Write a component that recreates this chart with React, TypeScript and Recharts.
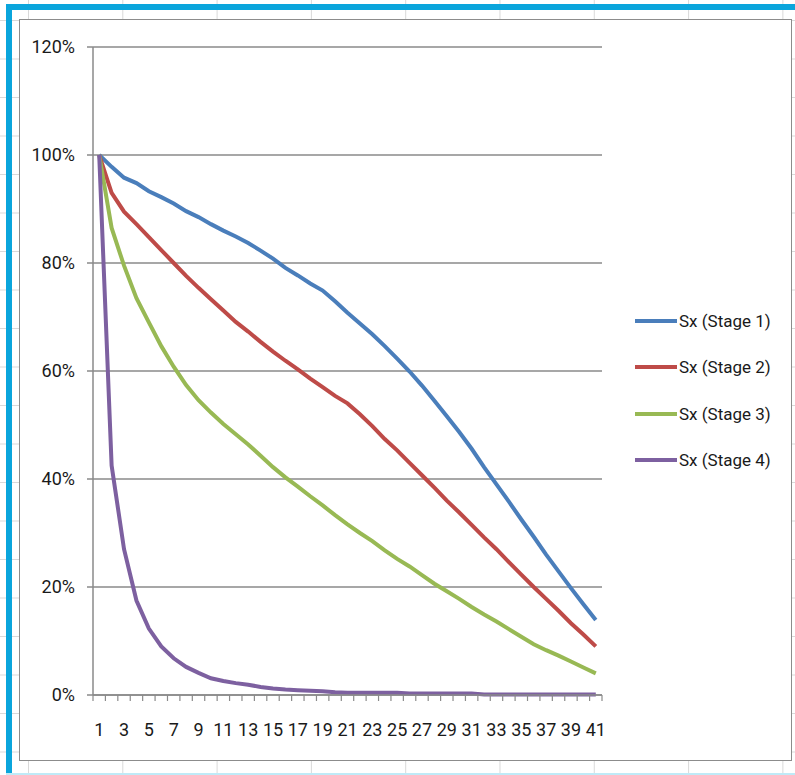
import React from 'react';
import { ComposedChart, Line, XAxis, YAxis, CartesianGrid } from 'recharts';

// year index 1..41
const periods = [
  1, 2, 3, 4, 5, 6, 7, 8, 9, 10, 11, 12, 13, 14, 15, 16, 17, 18, 19, 20, 21,
  22, 23, 24, 25, 26, 27, 28, 29, 30, 31, 32, 33, 34, 35, 36, 37, 38, 39, 40, 41,
];

// survival in %
const stage1 = [
  100, 97.8, 95.8, 94.8, 93.3, 92.2, 91, 89.6, 88.5, 87.2, 86, 84.9, 83.7, 82.3,
  80.8, 79.1, 77.7, 76.2, 74.9, 72.9, 70.8, 68.8, 66.8, 64.6, 62.3, 59.9, 57.3,
  54.5, 51.6, 48.7, 45.6, 42.2, 39, 35.8, 32.5, 29.3, 26, 22.9, 19.8, 16.8, 13.9,
];
const stage2 = [
  100, 93, 89.5, 87.2, 84.8, 82.4, 80, 77.6, 75.4, 73.3, 71.2, 69.1, 67.3, 65.4,
  63.6, 61.9, 60.3, 58.6, 57, 55.4, 54, 52, 49.8, 47.4, 45.3, 43, 40.7, 38.4, 36,
  33.8, 31.5, 29.2, 27, 24.6, 22.3, 20, 17.8, 15.6, 13.3, 11.2, 9,
];
const stage3 = [
  100, 86.5, 79.5, 73.5, 69, 64.6, 60.8, 57.4, 54.6, 52.3, 50.2, 48.3, 46.4,
  44.3, 42.2, 40.3, 38.6, 36.8, 35.1, 33.3, 31.6, 30, 28.5, 26.8, 25.2, 23.8,
  22.2, 20.6, 19.2, 17.8, 16.3, 14.9, 13.6, 12.2, 10.8, 9.4, 8.3, 7.3, 6.2, 5.1, 4,
];
const stage4 = [
  100, 42.5, 27, 17.5, 12.3, 9, 6.8, 5.2, 4.1, 3.1, 2.6, 2.2, 1.9, 1.5, 1.2, 1,
  0.9, 0.8, 0.7, 0.5, 0.4, 0.4, 0.4, 0.4, 0.4, 0.3, 0.3, 0.3, 0.3, 0.3, 0.3, 0.1,
  0.1, 0.1, 0.1, 0.1, 0.1, 0.1, 0.1, 0.1, 0.1,
];

const yTicks = [0, 20, 40, 60, 80, 100, 120];
const seriesKeys = ['s1', 's2', 's3', 's4'];
const seriesNames = ['Sx (Stage 1)', 'Sx (Stage 2)', 'Sx (Stage 3)', 'Sx (Stage 4)'];
const seriesColors = ['#4A7EBB', '#BE4B48', '#98B954', '#7D60A0'];

const data = periods.map((p, i) => ({
  period: p,
  s1: stage1[i],
  s2: stage2[i],
  s3: stage3[i],
  s4: stage4[i],
}));

const FONT = 'Roboto, "Liberation Sans", sans-serif';
const GRID = '#8a8a8a';
const PLOT_W = 509;

const XTick = (props: any) => {
  const { x, y, payload, index } = props;
  const half = PLOT_W / periods.length / 2;
  return (
    <g>
      <line x1={x - half} x2={x - half} y1={y} y2={y + 6} stroke={GRID} strokeWidth={1.2} />
      {index === periods.length - 1 && (
        <line x1={x + half} x2={x + half} y1={y} y2={y + 6} stroke={GRID} strokeWidth={1.2} />
      )}
      {index % 2 === 0 && (
        <text x={x} y={y + 41} textAnchor="middle" fill="#1a1a1a" fontSize={18} fontFamily={FONT}>
          {payload.value}
        </text>
      )}
    </g>
  );
};

export default function App() {
  return (
    <div
      style={{
        position: 'fixed',
        left: 0,
        top: 0,
        width: 795,
        height: 775,
        background: '#fff',
        backgroundImage:
          'linear-gradient(to right, #d9d9d9 1px, transparent 1px), linear-gradient(to bottom, #d9d9d9 1px, transparent 1px)',
        backgroundSize: '94.3px 38.5px',
        backgroundPosition: '28px 20px',
        overflow: 'hidden',
      }}
    >
      {/* selection frame */}
      <div style={{ position: 'absolute', left: 6, top: 4, width: 789, height: 6, background: '#0AA5DC' }} />
      <div style={{ position: 'absolute', left: 6, top: 4, width: 6, height: 771, background: '#0AA5DC' }} />
      <div style={{ position: 'absolute', left: 6, top: 773, width: 789, height: 2, background: '#bfeaf7' }} />

      <div
        style={{
          position: 'absolute',
          left: 19,
          top: 19,
          width: 771,
          height: 740,
          border: '1px solid #8c8c8c',
          background: '#fff',
        }}
      >
        <ComposedChart
          width={771}
          height={740}
          data={data}
          margin={{ top: 27, right: 189, bottom: 0, left: 0 }}
        >
          <CartesianGrid vertical={false} stroke={GRID} strokeWidth={1.5} />
          <XAxis
            dataKey="period"
            scale="band"
            height={65}
            interval={0}
            tickSize={0}
            tickMargin={0}
            tickLine={false}
            axisLine={{ stroke: GRID, strokeWidth: 1.5 }}
            tick={<XTick />}
          />
          <YAxis
            width={73}
            domain={[0, 120]}
            ticks={yTicks}
            tickFormatter={(v: number) => `${v}%`}
            tickSize={6}
            tickMargin={12}
            tickLine={{ stroke: GRID, strokeWidth: 1.5 }}
            axisLine={{ stroke: GRID, strokeWidth: 1.5 }}
            tick={{ fill: '#1a1a1a', fontSize: 18, fontFamily: FONT }}
          />
          {seriesKeys.map((k, i) => (
            <Line
              key={k}
              type="linear"
              dataKey={k}
              name={seriesNames[i]}
              stroke={seriesColors[i]}
              strokeWidth={4}
              dot={false}
              activeDot={false}
              isAnimationActive={false}
            />
          ))}
        </ComposedChart>
      </div>

      {/* legend */}
      {seriesNames.map((name, i) => (
        <div
          key={name}
          style={{
            position: 'absolute',
            left: 635,
            top: 321 + i * 46.3 - 12,
            height: 24,
            display: 'flex',
            alignItems: 'center',
            fontFamily: FONT,
            fontSize: 17,
            color: '#1a1a1a',
            whiteSpace: 'nowrap',
          }}
        >
          <span style={{ display: 'inline-block', width: 42, height: 4, background: seriesColors[i], marginRight: 2 }} />
          {name}
        </div>
      ))}
    </div>
  );
}
